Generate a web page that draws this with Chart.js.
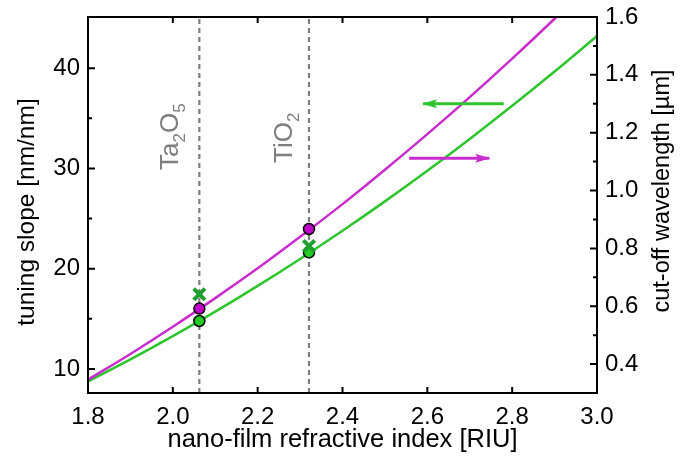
<!DOCTYPE html>
<html><head><meta charset="utf-8">
<script src="https://cdn.jsdelivr.net/npm/chart.js@4.4.1/dist/chart.umd.min.js"></script>
<style>html,body{margin:0;padding:0;background:#fff}#wrap{width:691px;height:460px}</style>
</head><body><div id="wrap"><canvas id="c" width="691" height="460"></canvas></div>
<script>
// ---- data ----
const refractiveIndex = [1.8, 1.9, 2.0, 2.1, 2.2, 2.3, 2.4, 2.5, 2.6, 2.7, 2.8, 2.9, 3.0];
const tuningSlope = [8.75, 10.95, 13.27, 15.71, 18.28, 20.97, 23.78, 26.71, 29.76, 32.94, 36.24, 39.66, 43.20];
const cutoffWavelength = [0.346, 0.435, 0.529, 0.628, 0.731, 0.840, 0.953, 1.072, 1.195, 1.323, 1.456, 1.594, 1.737];
const materials = ['Ta2O5', 'TiO2'];
const materialIndex = [2.0625, 2.321];
const slopeCircle = [14.78, 21.62];
const slopeCross = [17.45, 22.26];
const cutoffCircle = [0.592, 0.867];
const greenArrowX = [2.78, 2.59];
const greenArrowY = [1.30, 1.30];
const magentaArrowX = [2.557, 2.746];
const magentaArrowY = [1.112, 1.112];
const xTicks = [1.8, 2.0, 2.2, 2.4, 2.6, 2.8, 3.0];
const leftTicks = [10, 20, 30, 40];
const leftMinor = [15, 25, 35];
const rightTicks = [0.4, 0.6, 0.8, 1.0, 1.2, 1.4, 1.6];
const rightMinor = [0.5, 0.7, 0.9, 1.1, 1.3, 1.5];
const xTitle = 'nano-film refractive index [RIU]';
const leftTitle = 'tuning slope [nm/nm]';
const rightTitle = 'cut-off wavelength [µm]';

const X_MIN = 1.8, X_MAX = 3.0, L_MIN = 7.6, L_MAX = 45.1, R_MIN = 0.30, R_MAX = 1.6;
const FONT = "Arial, 'Liberation Sans', sans-serif";
const MAGENTA = '#c82ccc';
const GREEN = '#2ec42e';
const DKGREEN = '#1f9f30';
const GREY = '#7e7e7e';

const pts = (xs, ys) => xs.map((x, i) => ({x: x, y: ys[i]}));

const datasets = [
  {label: 'cross', data: pts(materialIndex, slopeCross), yAxisID: 'yL',
   showLine: false, pointStyle: 'crossRot', pointRadius: 8, borderColor: DKGREEN, pointBorderWidth: 4, order: 0},
  {label: 'magCircle', data: pts(materialIndex, cutoffCircle), yAxisID: 'yR', showLine: false,
   pointStyle: 'circle', pointRadius: 5.5, backgroundColor: '#c000c4', borderColor: '#000', pointBorderWidth: 1.5, order: 0},
  {label: 'grnCircle', data: pts(materialIndex, slopeCircle), yAxisID: 'yL', showLine: false,
   pointStyle: 'circle', pointRadius: 5.5, backgroundColor: '#22cc22', borderColor: '#000', pointBorderWidth: 1.5, order: 0},
  {label: 'greenArrow', data: pts(greenArrowX, greenArrowY), yAxisID: 'yR', borderColor: GREEN, borderWidth: 3, pointRadius: 0, order: 3},
  {label: 'magentaArrow', data: pts(magentaArrowX, magentaArrowY), yAxisID: 'yR', borderColor: MAGENTA, borderWidth: 3, pointRadius: 0, order: 3},
  {label: 'cutoff', data: pts(refractiveIndex, cutoffWavelength), yAxisID: 'yR', borderColor: MAGENTA, borderWidth: 2.5,
   pointRadius: 0, cubicInterpolationMode: 'monotone', order: 5},
  {label: 'slope', data: pts(refractiveIndex, tuningSlope), yAxisID: 'yL', borderColor: GREEN, borderWidth: 2.5,
   pointRadius: 0, cubicInterpolationMode: 'monotone', order: 5},
  {label: 'lineTa', data: [{x: materialIndex[0], y: L_MIN}, {x: materialIndex[0], y: L_MAX}], yAxisID: 'yL',
   borderColor: GREY, borderWidth: 2.2, borderDash: [5, 4], pointRadius: 0, order: 10},
  {label: 'lineTi', data: [{x: materialIndex[1], y: L_MIN}, {x: materialIndex[1], y: L_MAX}], yAxisID: 'yL',
   borderColor: GREY, borderWidth: 2.2, borderDash: [5, 4], pointRadius: 0, order: 10}
];

function drawArrowHead(ctx, meta, color) {
  const p0 = meta.data[0], p1 = meta.data[1];
  const dir = Math.sign(p1.x - p0.x);
  const L = 14, W = 4.5;
  ctx.save();
  ctx.fillStyle = color;
  ctx.beginPath();
  ctx.moveTo(p1.x + dir * 1, p1.y);
  ctx.lineTo(p1.x - dir * L, p1.y - W);
  ctx.lineTo(p1.x - dir * (L - 3), p1.y);
  ctx.lineTo(p1.x - dir * L, p1.y + W);
  ctx.closePath();
  ctx.fill();
  ctx.restore();
}

function drawChem(ctx, x, y, parts) {
  ctx.save();
  ctx.translate(x, y);
  ctx.rotate(-Math.PI / 2);
  ctx.fillStyle = GREY;
  ctx.textBaseline = 'alphabetic';
  ctx.textAlign = 'left';
  let cx = 0;
  for (const [t, sub] of parts) {
    ctx.font = (sub ? '17px ' : '26px ') + FONT;
    ctx.fillText(t, cx, sub ? 7 : 0);
    cx += ctx.measureText(t).width;
  }
  ctx.restore();
}

const framePlugin = {
  id: 'frame',
  afterDatasetsDraw(chart) {
    const ctx = chart.ctx;
    const metas = chart.getSortedVisibleDatasetMetas();
    for (const m of metas) {
      if (m.label === 'greenArrow') drawArrowHead(ctx, m, GREEN);
      if (m.label === 'magentaArrow') drawArrowHead(ctx, m, MAGENTA);
    }
  },
  afterDraw(chart) {
    const ctx = chart.ctx, a = chart.chartArea;
    const xs = chart.scales.x, yl = chart.scales.yL, yr = chart.scales.yR;
    ctx.save();
    ctx.strokeStyle = '#000';
    ctx.lineWidth = 2;
    ctx.strokeRect(a.left, a.top, a.right - a.left, a.bottom - a.top);
    ctx.beginPath();
    for (const v of xTicks) {
      const px = xs.getPixelForValue(v);
      if (px <= a.left + 1 || px >= a.right - 1) continue;
      ctx.moveTo(px, a.bottom); ctx.lineTo(px, a.bottom - 6);
      ctx.moveTo(px, a.top); ctx.lineTo(px, a.top + 6);
    }
    for (const v of leftTicks) { const py = yl.getPixelForValue(v); ctx.moveTo(a.left, py); ctx.lineTo(a.left + 7, py); }
    for (const v of leftMinor) { const py = yl.getPixelForValue(v); ctx.moveTo(a.left, py); ctx.lineTo(a.left + 4, py); }
    for (const v of rightTicks) { const py = yr.getPixelForValue(v); if (py <= a.top + 1) continue; ctx.moveTo(a.right, py); ctx.lineTo(a.right - 7, py); }
    for (const v of rightMinor) { const py = yr.getPixelForValue(v); ctx.moveTo(a.right, py); ctx.lineTo(a.right - 4, py); }
    ctx.stroke();
    ctx.restore();

    // axis titles
    ctx.save();
    ctx.fillStyle = '#000';
    ctx.textAlign = 'center';
    ctx.textBaseline = 'alphabetic';
    ctx.font = '25.5px ' + FONT;
    ctx.fillText(xTitle, (a.left + a.right) / 2, 447);
    ctx.font = '24.5px ' + FONT;
    ctx.save();
    ctx.translate(34, 212);
    ctx.rotate(-Math.PI / 2);
    ctx.fillText(leftTitle, 0, 0);
    ctx.restore();
    ctx.font = '23.5px ' + FONT;
    ctx.save();
    ctx.translate(669, 191);
    ctx.rotate(-Math.PI / 2);
    ctx.fillText(rightTitle, 0, 0);
    ctx.restore();
    ctx.restore();

    // material labels
    const pTa = xs.getPixelForValue(materialIndex[0]);
    const pTi = xs.getPixelForValue(materialIndex[1]);
    drawChem(ctx, pTa - 21, 170, [['Ta', false], ['2', true], ['O', false], ['5', true]]);
    drawChem(ctx, pTi - 17, 163, [['TiO', false], ['2', true]]);
  }
};

const tickFont = {family: FONT, size: 24};
function fixBox(s, w, h) {
  if (w !== null) s.width = w;
  if (h !== null) s.height = h;
  s.paddingTop = 0; s.paddingBottom = 0; s.paddingLeft = 0; s.paddingRight = 0;
}
new Chart(document.getElementById('c'), {
  type: 'line',
  data: {datasets: datasets},
  options: {
    responsive: false, animation: false, devicePixelRatio: 1,
    layout: {padding: {top: 17, left: 0, right: 0, bottom: 0}},
    plugins: {legend: {display: false}, tooltip: {enabled: false}},
    scales: {
      x: {type: 'linear', position: 'bottom', min: X_MIN, max: X_MAX,
        grid: {display: false, drawTicks: false}, border: {display: false},
        ticks: {autoSkip: false, maxRotation: 0, padding: 10, color: '#000', font: tickFont,
          callback: v => v.toFixed(1)},
        afterBuildTicks(s) { s.ticks = xTicks.map(v => ({value: v})); },
        afterFit(s) { fixBox(s, null, 67); }},
      yL: {type: 'linear', position: 'left', min: L_MIN, max: L_MAX,
        grid: {display: false, drawTicks: false, tickLength: 0}, border: {display: false},
        ticks: {autoSkip: false, padding: 8, color: '#000', font: tickFont, callback: v => String(v)},
        afterBuildTicks(s) { s.ticks = leftTicks.map(v => ({value: v})); },
        afterFit(s) { fixBox(s, 88, null); }},
      yR: {type: 'linear', position: 'right', min: R_MIN, max: R_MAX,
        grid: {display: false, drawTicks: false, tickLength: 0}, border: {display: false},
        ticks: {autoSkip: false, padding: 8, color: '#000', font: tickFont, callback: v => v.toFixed(1)},
        afterBuildTicks(s) { s.ticks = rightTicks.map(v => ({value: v})); },
        afterFit(s) { fixBox(s, 94, null); }}
    }
  },
  plugins: [framePlugin]
});
</script></body></html>
